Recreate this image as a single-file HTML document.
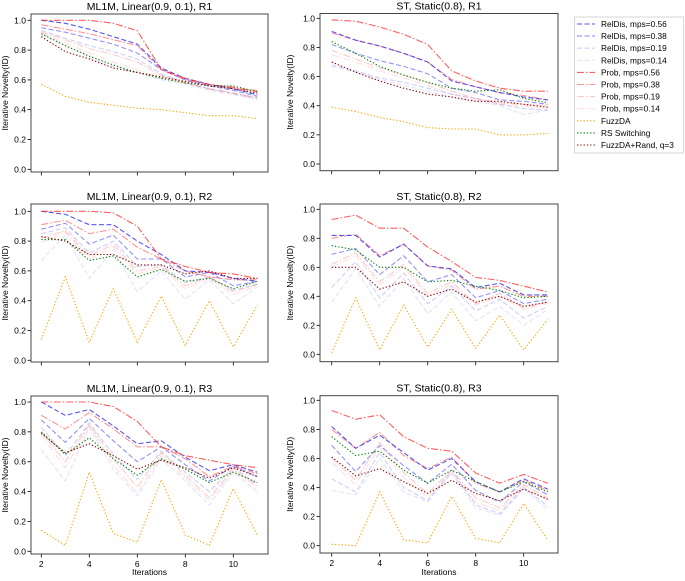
<!DOCTYPE html>
<html><head><meta charset="utf-8"><style>
body{margin:0;background:#fff;}
svg text{font-family:"Liberation Sans",sans-serif;fill:#000;}
</style></head><body>
<svg id="chart" width="685" height="576" xmlns="http://www.w3.org/2000/svg"></svg>
<script>
const iterations=[2,3,4,5,6,7,8,9,10,11];
const seriesNames=["RelDis, mps=0.56","RelDis, mps=0.38","RelDis, mps=0.19","RelDis, mps=0.14","Prob, mps=0.56","Prob, mps=0.38","Prob, mps=0.19","Prob, mps=0.14","FuzzDA","RS Switching","FuzzDA+Rand, q=3"];
const panelTitles=["ML1M, Linear(0.9, 0.1), R1","ST, Static(0.8), R1","ML1M, Linear(0.9, 0.1), R2","ST, Static(0.8), R2","ML1M, Linear(0.9, 0.1), R3","ST, Static(0.8), R3"];
const yTicks=[0,0.2,0.4,0.6,0.8,1.0];
const xTicks=[2,4,6,8,10];
// panel values, order = seriesNames
const p1=[[1.0,0.98,0.94,0.89,0.84,0.68,0.61,0.57,0.54,0.50],[0.95,0.92,0.88,0.84,0.78,0.67,0.60,0.56,0.53,0.49],[0.93,0.88,0.83,0.79,0.74,0.64,0.58,0.54,0.51,0.48],[0.90,0.83,0.75,0.69,0.65,0.60,0.57,0.53,0.50,0.47],[1.0,1.0,1.0,0.98,0.93,0.67,0.61,0.57,0.55,0.52],[0.97,0.94,0.91,0.87,0.83,0.67,0.60,0.57,0.54,0.53],[0.92,0.87,0.81,0.77,0.72,0.63,0.58,0.54,0.51,0.48],[0.91,0.85,0.78,0.72,0.67,0.61,0.58,0.54,0.51,0.47],[0.57,0.49,0.45,0.43,0.41,0.40,0.38,0.36,0.36,0.34],[0.91,0.83,0.76,0.70,0.65,0.61,0.58,0.56,0.56,0.52],[0.89,0.79,0.74,0.68,0.65,0.62,0.59,0.56,0.54,0.51]];
const p2=[[0.91,0.85,0.81,0.76,0.70,0.57,0.53,0.49,0.46,0.44],[0.82,0.76,0.71,0.67,0.62,0.52,0.49,0.44,0.43,0.41],[0.68,0.64,0.59,0.56,0.52,0.48,0.45,0.41,0.38,0.37],[0.67,0.63,0.58,0.54,0.50,0.46,0.43,0.40,0.34,0.37],[0.99,0.98,0.94,0.89,0.82,0.64,0.57,0.52,0.50,0.50],[0.90,0.85,0.81,0.76,0.70,0.58,0.53,0.49,0.47,0.44],[0.78,0.72,0.66,0.61,0.56,0.50,0.45,0.42,0.41,0.40],[0.75,0.70,0.64,0.59,0.54,0.48,0.44,0.41,0.40,0.38],[0.39,0.36,0.32,0.29,0.25,0.24,0.24,0.20,0.20,0.21],[0.84,0.76,0.67,0.61,0.56,0.52,0.50,0.51,0.45,0.42],[0.70,0.63,0.57,0.52,0.48,0.46,0.43,0.43,0.41,0.39]];
const p3=[[1.0,0.98,0.91,0.91,0.80,0.71,0.60,0.59,0.55,0.53],[0.88,0.92,0.78,0.84,0.68,0.68,0.56,0.59,0.50,0.53],[0.85,0.89,0.72,0.80,0.63,0.64,0.52,0.56,0.47,0.51],[0.67,0.84,0.55,0.74,0.46,0.60,0.41,0.54,0.38,0.49],[1.0,1.0,1.0,0.99,0.90,0.68,0.63,0.59,0.58,0.55],[0.91,0.94,0.85,0.88,0.76,0.68,0.60,0.56,0.54,0.54],[0.82,0.87,0.70,0.78,0.60,0.63,0.50,0.56,0.46,0.51],[0.79,0.86,0.68,0.76,0.58,0.62,0.48,0.55,0.44,0.50],[0.14,0.56,0.12,0.48,0.12,0.43,0.10,0.40,0.09,0.37],[0.81,0.81,0.67,0.70,0.56,0.61,0.53,0.55,0.48,0.53],[0.83,0.80,0.71,0.71,0.64,0.64,0.58,0.60,0.55,0.55]];
const p4=[[0.82,0.82,0.67,0.76,0.61,0.59,0.46,0.49,0.41,0.41],[0.69,0.73,0.55,0.68,0.50,0.55,0.39,0.44,0.35,0.38],[0.46,0.64,0.39,0.56,0.35,0.47,0.30,0.38,0.25,0.33],[0.36,0.59,0.33,0.52,0.28,0.43,0.23,0.33,0.20,0.31],[0.93,0.96,0.87,0.87,0.74,0.64,0.53,0.51,0.47,0.43],[0.80,0.83,0.68,0.76,0.61,0.58,0.45,0.47,0.40,0.40],[0.62,0.70,0.50,0.62,0.42,0.50,0.35,0.42,0.32,0.36],[0.60,0.68,0.48,0.60,0.40,0.48,0.34,0.40,0.31,0.35],[0.01,0.39,0.03,0.34,0.05,0.31,0.04,0.27,0.03,0.24],[0.75,0.72,0.60,0.60,0.50,0.51,0.47,0.44,0.39,0.40],[0.60,0.60,0.45,0.50,0.40,0.45,0.36,0.40,0.33,0.36]];
const p5=[[1.0,0.91,0.95,0.84,0.72,0.74,0.63,0.54,0.58,0.53],[0.88,0.73,0.89,0.74,0.60,0.70,0.58,0.47,0.57,0.50],[0.83,0.64,0.86,0.65,0.48,0.67,0.53,0.40,0.56,0.45],[0.68,0.47,0.83,0.55,0.37,0.62,0.47,0.31,0.53,0.40],[1.0,1.0,1.0,0.97,0.87,0.70,0.64,0.61,0.58,0.56],[0.91,0.82,0.93,0.82,0.70,0.70,0.62,0.50,0.57,0.52],[0.80,0.60,0.85,0.62,0.43,0.66,0.51,0.36,0.55,0.44],[0.78,0.56,0.84,0.58,0.39,0.64,0.49,0.34,0.54,0.43],[0.14,0.04,0.53,0.12,0.06,0.48,0.11,0.04,0.42,0.11],[0.80,0.65,0.76,0.62,0.51,0.62,0.55,0.46,0.53,0.46],[0.79,0.66,0.72,0.64,0.55,0.61,0.56,0.49,0.56,0.50]];
const p6=[[0.82,0.67,0.76,0.64,0.52,0.60,0.44,0.37,0.46,0.39],[0.69,0.51,0.69,0.55,0.43,0.56,0.38,0.30,0.44,0.35],[0.46,0.37,0.64,0.40,0.31,0.52,0.28,0.22,0.40,0.27],[0.38,0.35,0.60,0.37,0.30,0.50,0.26,0.21,0.39,0.25],[0.93,0.87,0.90,0.75,0.67,0.65,0.50,0.43,0.49,0.43],[0.80,0.67,0.78,0.62,0.53,0.61,0.43,0.37,0.45,0.38],[0.60,0.45,0.71,0.50,0.36,0.52,0.33,0.26,0.42,0.33],[0.57,0.42,0.68,0.47,0.33,0.50,0.30,0.24,0.41,0.31],[0.01,0.0,0.37,0.04,0.02,0.34,0.05,0.02,0.29,0.04],[0.75,0.62,0.65,0.52,0.43,0.52,0.44,0.37,0.44,0.37],[0.61,0.48,0.53,0.44,0.36,0.45,0.36,0.31,0.39,0.32]];
const panelData=[p1,p2,p3,p4,p5,p6];

const styles=[
 {c:"#3a3aee",o:0.85,d:"5,2.5"},{c:"#3a3aee",o:0.55,d:"5,2.5"},{c:"#3a3aee",o:0.25,d:"5,2.5"},{c:"#3a3aee",o:0.15,d:"5,2.5"},
 {c:"#ff2a2a",o:0.75,d:"7,2,1.5,2"},{c:"#ff2a2a",o:0.5,d:"7,2,1.5,2"},{c:"#ff2a2a",o:0.25,d:"7,2,1.5,2"},{c:"#ff2a2a",o:0.15,d:"7,2,1.5,2"},
 {c:"#ffa500",o:1,d:"1.3,2"},{c:"#008000",o:1,d:"1.3,2"},{c:"#8b0000",o:1,d:"1.3,2"}];
const NS="http://www.w3.org/2000/svg";
const svg=document.getElementById('chart');
function mk(tag,attrs,parent){const e=document.createElementNS(NS,tag);for(const k in attrs)e.setAttribute(k,attrs[k]);(parent||svg).appendChild(e);return e;}
const geoms=[
 {fl:31,fr:268,ft:14,fb:172,x2:41.3,y1:20.3,y0:169.3},
 {fl:320,fr:558,ft:13.5,fb:170.7,x2:331.7,y1:18.3,y0:164},
 {fl:31,fr:268,ft:204,fb:362,x2:41.3,y1:211.3,y0:360.3},
 {fl:320,fr:558,ft:204,fb:361.7,x2:331.7,y1:209.3,y0:354.3},
 {fl:31,fr:268,ft:396,fb:554,x2:41.3,y1:402,y0:551.3},
 {fl:320,fr:558,ft:395.7,fb:553,x2:331.7,y1:400.3,y0:545.7}];
geoms.forEach((g,pi)=>{
 const grp=mk('g',{});
 
 
 const xs=v=>g.x2+(v-2)*24;
 const ys=v=>g.y0+(g.y1-g.y0)*v;
 const t=mk('text',{x:(g.fl+g.fr)/2,y:g.ft-4,'text-anchor':'middle','font-size':'10.5'},grp);t.textContent=panelTitles[pi];
 
 yTicks.forEach(v=>{mk('line',{x1:g.fl-3.5,x2:g.fl,y1:ys(v),y2:ys(v),stroke:'#000','stroke-width':0.8},grp);
  const tt=mk('text',{x:g.fl-5,y:ys(v)+3,'text-anchor':'end','font-size':'8.5'},grp);tt.textContent=v.toFixed(1);
  });
 xTicks.forEach(v=>{mk('line',{x1:xs(v),x2:xs(v),y1:g.fb,y2:g.fb+3.5,stroke:'#000','stroke-width':0.8},grp);
  if(pi>=4){const tt=mk('text',{x:xs(v),y:g.fb+13,'text-anchor':'middle','font-size':'8.5'},grp);tt.textContent=v;
  }});
 const yl=mk('text',{transform:`translate(${pi%2?293:8},${(g.ft+g.fb)/2}) rotate(-90)`,'text-anchor':'middle','font-size':'8.5'},grp);yl.textContent='Iterative Novelty(ID)';
 
 if(pi>=4){const xl=mk('text',{x:(g.fl+g.fr)/2,y:575,'text-anchor':'middle','font-size':'8.5'},grp);xl.textContent='Iterations';
  }
 const order=[3,2,7,6,1,5,0,4,8,9,10];
 order.forEach(si=>{const s=styles[si];const vals=panelData[pi][si];
  const pts=vals.map((v,i)=>xs(iterations[i]).toFixed(1)+','+ys(v).toFixed(1)).join(' ');
  const pl=mk('polyline',{points:pts,fill:'none',stroke:s.c,'stroke-opacity':s.o,'stroke-width':1.1,'stroke-dasharray':s.d},grp);
  });
 const fr=mk('rect',{x:g.fl,y:g.ft,width:g.fr-g.fl,height:g.fb-g.ft,fill:'none',stroke:'#444','stroke-width':1},grp);
 
});
const lg=mk('g',{});


mk('rect',{x:574.5,y:17,width:109,height:136,fill:'#fff',stroke:'#ccc','stroke-width':0.8},lg);
seriesNames.forEach((n,i)=>{const y=24+i*12.1;const s=styles[i];
 const e=mk('g',{},lg);
 
 
 mk('line',{x1:577,x2:595,y1:y,y2:y,stroke:s.c,'stroke-opacity':s.o,'stroke-width':1.1,'stroke-dasharray':s.d},e);
 const t=mk('text',{x:601,y:y+3,'font-size':'8.3'},e);t.textContent=n;});
</script>
</body></html>
